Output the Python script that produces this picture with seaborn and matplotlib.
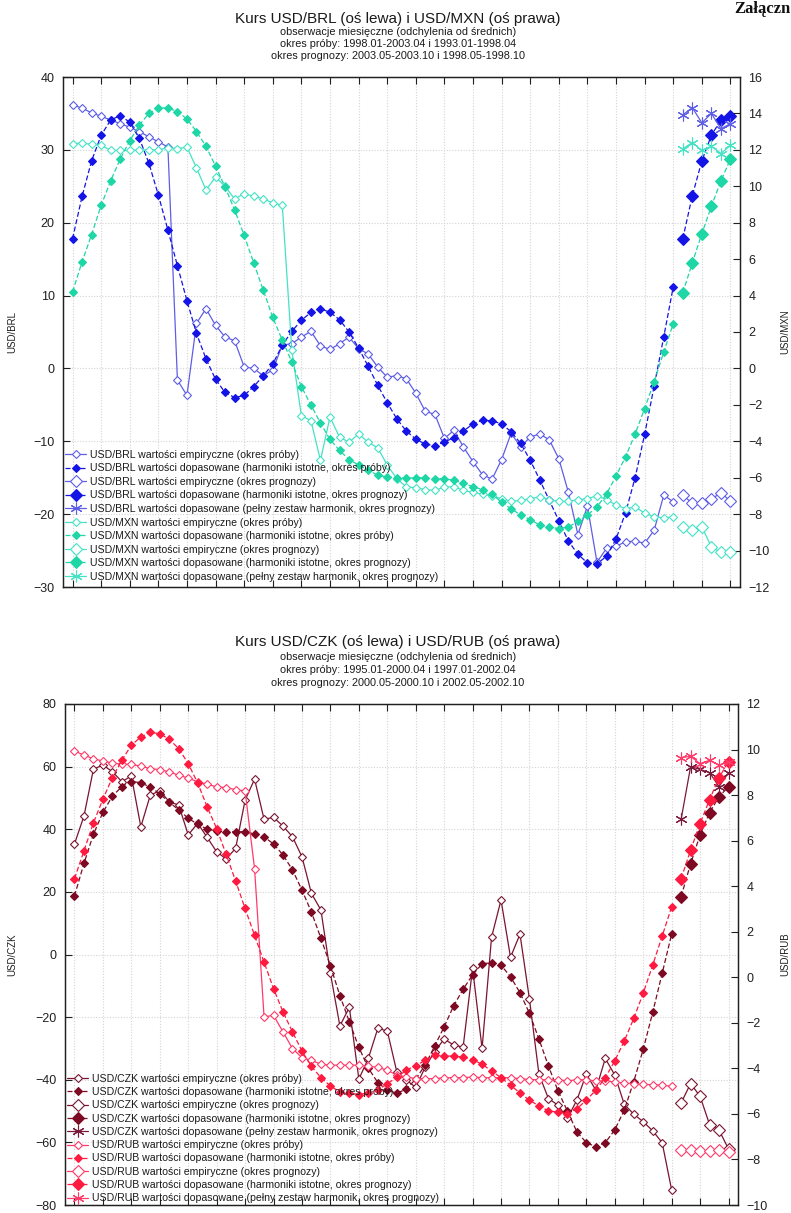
import numpy as np
import matplotlib
matplotlib.use("Agg")
import matplotlib.pyplot as plt
import seaborn as sns

sns.set_theme(style="white")
plt.rcParams['font.family'] = ['Liberation Sans', 'DejaVu Sans']
plt.rcParams['xtick.direction'] = 'in'
plt.rcParams['ytick.direction'] = 'in'

# ---------------- USD/BRL (left) and USD/MXN (right) ----------------
brl_emp_sample = [36.2, 35.7, 35.1, 34.6, 34.1, 33.6, 33.1, 32.5, 31.8, 31.1,
                  30.4, -1.6, -3.7, 6.2, 8.2, 5.9, 4.3, 3.8, 0.2, 0.0,
                  -1.0, -0.2, 3.2, 3.4, 4.3, 5.1, 3.1, 2.6, 3.4, 4.3,
                  2.7, 2.0, 0.2, -1.2, -1.0, -1.4, -3.4, -5.9, -6.3, -9.6,
                  -8.5, -10.8, -12.8, -14.6, -15.2, -12.5, -8.9, -10.8, -9.4, -9.0,
                  -9.8, -12.4, -17.0, -22.8, -18.9, -26.6, -24.7, -24.4, -23.8, -23.7,
                  -24.0, -22.2, -17.4, -18.3]
brl_fit_sample = [17.8, 23.6, 28.5, 32.0, 34.1, 34.7, 33.8, 31.6, 28.2, 23.8,
                  19.0, 14.1, 9.3, 4.8, 1.3, -1.5, -3.3, -4.0, -3.7, -2.5,
                  -1.0, 0.6, 3.2, 5.1, 6.6, 7.7, 8.2, 7.7, 6.7, 5.0,
                  2.8, 0.3, -2.3, -4.7, -6.9, -8.6, -9.7, -10.4, -10.6, -10.1,
                  -9.5, -8.6, -7.6, -7.1, -7.2, -7.6, -8.7, -10.3, -12.6, -15.3,
                  -18.1, -20.9, -23.7, -25.5, -26.7, -26.8, -25.8, -23.4, -19.8, -15.0,
                  -9.05, -2.4, 4.3, 11.2]
brl_emp_fcst = [-17.4, -18.5, -18.5, -17.9, -17.1, -18.2]
brl_fit_fcst = [17.8, 23.7, 28.5, 32.0, 34.1, 34.7]
brl_full_fcst = [34.8, 35.8, 33.7, 35.0, 32.9, 33.6]

mxn_emp_sample = [12.34, 12.37, 12.3, 12.25, 11.97, 11.97, 11.97, 12.0, 12.0, 12.0,
                  12.12, 12.07, 12.15, 11.0, 9.8, 10.5, 10.0, 9.3, 9.6, 9.45,
                  9.3, 9.1, 8.95, 1.0, -2.6, -2.86, -5.05, -2.67, -3.77, -4.05,
                  -3.6, -4.05, -4.35, -5.3, -6.05, -6.5, -6.55, -6.65, -6.7, -6.5,
                  -6.5, -6.7, -6.8, -6.9, -7.0, -7.15, -7.3, -7.25, -7.15, -7.05,
                  -7.2, -7.3, -7.3, -7.2, -7.15, -7.0, -7.2, -7.5, -7.7, -7.6,
                  -7.95, -8.15, -8.2, -8.15]
mxn_fit_sample = [4.2, 5.85, 7.35, 8.95, 10.3, 11.5, 12.5, 13.35, 14.0, 14.3,
                  14.3, 14.1, 13.7, 13.0, 12.2, 11.1, 9.96, 8.7, 7.3, 5.8,
                  4.3, 2.8, 1.55, 0.35, -1.0, -2.0, -3.0, -3.9, -4.5, -5.0,
                  -5.3, -5.6, -5.85, -5.97, -6.0, -6.03, -6.0, -6.0, -6.05, -6.05,
                  -6.15, -6.3, -6.5, -6.65, -6.9, -7.35, -7.7, -8.05, -8.3, -8.6,
                  -8.7, -8.8, -8.7, -8.4, -8.05, -7.6, -6.9, -5.9, -4.85, -3.6,
                  -2.2, -0.72, 0.9, 2.45]
mxn_emp_fcst = [-8.7, -8.85, -8.7, -9.8, -10.1, -10.1]
mxn_fit_fcst = [4.15, 5.8, 7.4, 8.9, 10.3, 11.5]
mxn_full_fcst = [12.06, 12.4, 11.97, 12.2, 11.8, 12.25]

# ---------------- USD/CZK (left) and USD/RUB (right) ----------------
czk_emp_sample = [35.3, 44.2, 59.2, 60.5, 58.4, 55.2, 57.0, 40.8, 50.9, 52.3,
                  48.8, 47.7, 38.2, 41.9, 37.4, 32.8, 30.5, 33.9, 49.3, 56.0,
                  43.2, 43.8, 41.0, 37.6, 31.2, 19.5, 14.2, -6.0, -22.8, -16.9,
                  -39.8, -33.2, -23.6, -24.4, -37.4, -40.1, -42.4, -36.0, -31.0, -27.0,
                  -28.9, -29.6, -4.4, -30.0, 5.5, 17.4, -0.9, 6.5, -14.3, -38.2,
                  -46.0, -48.1, -52.3, -46.5, -38.2, -43.3, -33.2, -38.5, -47.8, -51.0,
                  -53.4, -56.3, -60.1, -75.2]
czk_fit_sample = [18.7, 29.1, 38.4, 45.4, 50.6, 53.6, 55.2, 54.9, 53.4, 51.3,
                  48.6, 46.2, 43.5, 41.6, 40.0, 39.5, 39.2, 39.2, 39.2, 38.5,
                  37.6, 35.3, 31.8, 27.0, 20.6, 13.5, 5.2, -3.6, -13.1, -21.5,
                  -29.6, -36.3, -40.9, -43.3, -44.3, -43.0, -39.8, -35.3, -29.2, -23.1,
                  -16.4, -11.1, -6.5, -3.0, -2.6, -3.4, -7.1, -12.2, -18.8, -27.0,
                  -35.6, -43.5, -50.0, -56.6, -60.1, -61.4, -60.1, -56.0, -49.7, -40.6,
                  -30.3, -18.5, -6.0, 6.5]
czk_emp_fcst = [-47.4, -41.2, -45.3, -54.3, -56.1, -62.1]
czk_fit_fcst = [18.5, 29.0, 38.2, 45.3, 50.4, 53.6]
czk_full_fcst = [43.2, 60.0, 59.1, 58.1, 53.6, 58.1]

rub_emp_sample = [9.94, 9.75, 9.6, 9.49, 9.41, 9.35, 9.35, 9.27, 9.16, 9.12,
                  9.02, 8.87, 8.75, 8.58, 8.48, 8.36, 8.33, 8.24, 8.18, 4.77,
                  -1.74, -1.67, -2.4, -3.13, -3.53, -3.65, -3.82, -3.86, -3.86, -3.86,
                  -3.86, -3.9, -3.96, -4.08, -4.3, -4.38, -4.45, -4.45, -4.45, -4.41,
                  -4.41, -4.41, -4.38, -4.41, -4.41, -4.41, -4.41, -4.45, -4.49, -4.5,
                  -4.5, -4.5, -4.55, -4.5, -4.5, -4.55, -4.55, -4.6, -4.64, -4.67,
                  -4.7, -4.72, -4.74, -4.79]
rub_fit_sample = [4.33, 5.55, 6.78, 7.82, 8.77, 9.53, 10.19, 10.55, 10.75, 10.7,
                  10.45, 10.04, 9.38, 8.53, 7.48, 6.53, 5.4, 4.23, 3.02, 1.84,
                  0.67, -0.5, -1.52, -2.4, -3.24, -3.91, -4.41, -4.77, -5.04, -5.1,
                  -5.15, -5.08, -4.96, -4.67, -4.4, -4.08, -3.88, -3.65, -3.43, -3.46,
                  -3.46, -3.5, -3.62, -3.82, -4.11, -4.41, -4.74, -5.08, -5.4, -5.65,
                  -5.87, -5.92, -5.99, -5.77, -5.4, -4.96, -4.41, -3.67, -2.8, -1.81,
                  -0.7, 0.53, 1.81, 3.09]
rub_emp_fcst = [-7.58, -7.58, -7.62, -7.62, -7.6, -7.67]
rub_fit_fcst = [4.33, 5.58, 6.75, 7.8, 8.77, 9.46]
rub_full_fcst = [9.65, 9.7, 9.38, 9.53, 9.31, 9.46]

n_sample, n_fcst = 64, 6
t_sample = np.arange(n_sample)
t_fcst = np.arange(n_sample, n_sample + n_fcst)

FIG_W, FIG_H = 791, 1213
fig = plt.figure(figsize=(FIG_W / 100, FIG_H / 100), dpi=100)

ASTERISK = (6, 2, 0)
DASH = (0, (4, 2))


def add_series(ax, x, y, color, kind, label):
    """kind: emp_s, fit_s, emp_f, fit_f, full"""
    style = {
        'emp_s': dict(linestyle='-', marker='D', markersize=4.2, mfc='white'),
        'fit_s': dict(linestyle=DASH, marker='D', markersize=4.2, mfc=color),
        'emp_f': dict(linestyle='-', marker='D', markersize=6.0, mfc='white'),
        'fit_f': dict(linestyle=DASH, marker='D', markersize=6.2, mfc=color),
        'full': dict(linestyle='-', marker=ASTERISK, markersize=8.5, mfc=color),
    }[kind]
    sns.lineplot(x=x, y=y, ax=ax, color=color, linewidth=0.9,
                 linestyle=style['linestyle'], marker=style['marker'],
                 markersize=style['markersize'], markerfacecolor=style['mfc'],
                 markeredgecolor=color, markeredgewidth=0.8,
                 sort=False, estimator=None, legend=False)
    line = ax.lines[-1]
    line.set_label(label)
    return line


def make_panel(rect, left_lim, left_ticks, right_lim, right_ticks,
               left_name, right_name, left_sets, right_sets, colors,
               legend_top, legend_spacing, title_lines, title_y):
    ax = fig.add_axes(rect)
    ax2 = ax.twinx()
    ax.set_xlim(-1.0, 70.0)
    ax.set_ylim(*left_lim)
    ax2.set_ylim(*right_lim)
    ax.set_yticks(left_ticks)
    ax2.set_yticks(right_ticks)
    ax.set_xticks(np.arange(0, 70, 3))
    ax.set_xticklabels([])
    ax.tick_params(axis='x', which='both', top=True, bottom=True, length=5,
                   width=0.8, color='#202020', direction='in')
    ax.tick_params(axis='y', left=True, length=5, width=0.8, color='#202020',
                   labelsize=9, pad=6, labelcolor='#202020')
    ax2.tick_params(axis='y', right=True, length=5, width=0.8, color='#202020',
                    labelsize=9, pad=6, labelcolor='#202020')
    ax.grid(True, color='#d4d4d4', linestyle=(0, (1, 1.5)), linewidth=0.8)
    ax.set_axisbelow(True)
    for a in (ax, ax2):
        for sp in a.spines.values():
            sp.set_color('#202020')
            sp.set_linewidth(0.9)

    handles = []
    descriptions = ["wartości empiryczne (okres próby)",
                    "wartości dopasowane (harmoniki istotne, okres próby)",
                    "wartości empiryczne (okres prognozy)",
                    "wartości dopasowane (harmoniki istotne, okres prognozy)",
                    "wartości dopasowane (pełny zestaw harmonik, okres prognozy)"]
    kinds = ['emp_s', 'fit_s', 'emp_f', 'fit_f', 'full']
    for a, name, sets, cset in ((ax, left_name, left_sets, colors[0]),
                                (ax2, right_name, right_sets, colors[1])):
        for kind, lab, (xx, yy), col in zip(kinds, descriptions, sets, cset):
            handles.append(add_series(a, xx, yy, col, kind, f"{name} {lab}"))

    ax2.legend(handles=handles, loc='upper left', bbox_to_anchor=(0.0, legend_top),
               frameon=False, fontsize=7.6, handlelength=2.0, handletextpad=0.4,
               labelspacing=legend_spacing, borderaxespad=0.0, borderpad=0.2,
               labelcolor='#1a1a1a')

    # axis names
    y_mid = rect[1] + rect[3] / 2
    fig.text(12 / FIG_W, y_mid, left_name, rotation=90, ha='center', va='center',
             fontsize=7, color='#202020')
    fig.text(785 / FIG_W, y_mid, right_name, rotation=90, ha='center', va='center',
             fontsize=7, color='#202020')

    # titles
    sizes = [11, 7.8, 7.8, 7.8]
    for txt, yy, fs in zip(title_lines, title_y, sizes):
        fig.text(0.503, 1 - yy / FIG_H, txt, ha='center', va='center',
                 fontsize=fs, color='#1a1a1a')
    return ax, ax2


def px_rect(left, top, right, bottom):
    return [left / FIG_W, 1 - bottom / FIG_H, (right - left) / FIG_W,
            (bottom - top) / FIG_H]


# top panel
blue_cols = ['#5e5ee6', '#1414e6', '#5e5ee6', '#1414e6', '#5e5ee6']
teal_cols = ['#45e2c6', '#1fd6a6', '#45e2c6', '#1fd6a6', '#45e2c6']
make_panel(px_rect(63, 77, 740, 587), (-30, 40), np.arange(-30, 41, 10),
           (-12, 16), np.arange(-12, 17, 2), 'USD/BRL', 'USD/MXN',
           [(t_sample, brl_emp_sample), (t_sample, brl_fit_sample),
            (t_fcst, brl_emp_fcst), (t_fcst, brl_fit_fcst), (t_fcst, brl_full_fcst)],
           [(t_sample, mxn_emp_sample), (t_sample, mxn_fit_sample),
            (t_fcst, mxn_emp_fcst), (t_fcst, mxn_fit_fcst), (t_fcst, mxn_full_fcst)],
           (blue_cols, teal_cols), 0.273, 0.335,
           ["Kurs USD/BRL (oś lewa) i USD/MXN (oś prawa)",
            "obserwacje miesięczne (odchylenia od średnich)",
            "okres próby: 1998.01-2003.04 i 1993.01-1998.04",
            "okres prognozy: 2003.05-2003.10 i 1998.05-1998.10"],
           [19, 32, 44, 56])

# bottom panel
maroon_cols = ['#7a1430', '#7d0a22', '#7a1430', '#7d0a22', '#7a1a3a']
red_cols = ['#ff3a6a', '#ff1a40', '#ff3a6a', '#ff1a40', '#ff3a6a']
make_panel(px_rect(65, 704, 738, 1205), (-80, 80), np.arange(-80, 81, 20),
           (-10, 12), np.arange(-10, 13, 2), 'USD/CZK', 'USD/RUB',
           [(t_sample, czk_emp_sample), (t_sample, czk_fit_sample),
            (t_fcst, czk_emp_fcst), (t_fcst, czk_fit_fcst), (t_fcst, czk_full_fcst)],
           [(t_sample, rub_emp_sample), (t_sample, rub_fit_sample),
            (t_fcst, rub_emp_fcst), (t_fcst, rub_fit_fcst), (t_fcst, rub_full_fcst)],
           (maroon_cols, red_cols), 0.266, 0.31,
           ["Kurs USD/CZK (oś lewa) i USD/RUB (oś prawa)",
            "obserwacje miesięczne (odchylenia od średnich)",
            "okres próby: 1995.01-2000.04 i 1997.01-2002.04",
            "okres prognozy: 2000.05-2000.10 i 2002.05-2002.10"],
           [642, 657, 670, 683])

# page header fragment
fig.text(0.999, 1 - 13 / FIG_H, "Załączn", ha='right', va='baseline',
         fontsize=12, fontweight='bold', family='Liberation Serif', color='#111111')

fig.savefig("out.png", dpi=100, facecolor='white')
